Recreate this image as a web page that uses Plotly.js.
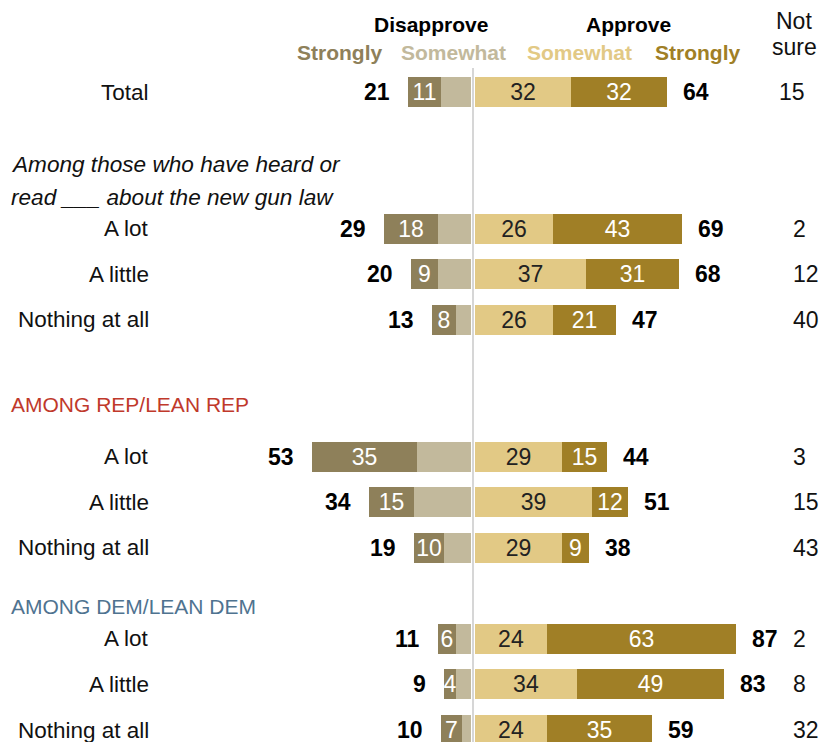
<!DOCTYPE html>
<html>
<head>
<meta charset="utf-8">
<script src="https://cdn.plot.ly/plotly-3.0.1.min.js"></script>
<style>html,body{margin:0;padding:0;background:#fff;}#chart{width:825px;height:742px;}</style>
</head>
<body>
<div id="chart"></div>
<script>
// ---- data ----
var rowLabels = ["Total","A lot","A little","Nothing at all","A lot","A little","Nothing at all","A lot","A little","Nothing at all"];
var stronglyDisapprove = [11,18,9,8,35,15,10,6,4,7];
var somewhatDisapprove = [10,11,11,5,18,19,9,5,5,3];
var somewhatApprove    = [32,26,37,26,29,39,29,24,34,24];
var stronglyApprove    = [32,43,31,21,15,12,9,63,49,35];
var totalDisapprove    = [21,29,20,13,53,34,19,11,9,10];
var totalApprove       = [64,69,68,47,44,51,38,87,83,59];
var notSure            = [15,2,12,40,3,15,43,2,8,32];

// ---- layout settings ----
var rowSlots = [0,3,4,5,8,9,10,12,13,14];   // vertical slot of each row (blank slots = group gaps)
var W = 825, H = 742;
var FONT = "Liberation Sans, Arial, sans-serif";
var C_SD = "#8e805a", C_WD = "#c2b99c", C_WA = "#e2c985", C_SA = "#a07f26";
var GAP = 0.67;       // half-gap around the zero line, in axis units
var barW = 0.66;
function py(p){ return 1 - p/H; }

var n = rowLabels.length;
var baseWD = [], baseSD = [], baseWA = [], baseSA = [];
for (var k=0;k<n;k++){
  baseWD.push(-GAP);
  baseSD.push(-GAP - somewhatDisapprove[k]);
  baseWA.push(GAP);
  baseSA.push(GAP + somewhatApprove[k]);
}
function neg(a){ return a.map(function(v){return -v;}); }
var common = {type:"bar", orientation:"h", y:rowSlots, width:barW, hoverinfo:"skip", showlegend:false,
  textposition:"inside", insidetextanchor:"middle", textangle:0, constraintext:"none"};
function mk(o){ var t = {}; for (var a in common) t[a]=common[a]; for (var b in o) t[b]=o[b]; return t; }

var traces = [
  mk({x:neg(somewhatDisapprove), base:baseWD, marker:{color:C_WD}, textposition:"none"}),
  mk({x:neg(stronglyDisapprove), base:baseSD, marker:{color:C_SD}, text:stronglyDisapprove.map(String),
      textfont:{family:FONT,size:23,color:"#ffffff"}}),
  mk({x:somewhatApprove, base:baseWA, marker:{color:C_WA}, text:somewhatApprove.map(String),
      textfont:{family:FONT,size:23,color:"#222222"}}),
  mk({x:stronglyApprove, base:baseSA, marker:{color:C_SA}, text:stronglyApprove.map(String),
      textfont:{family:FONT,size:23,color:"#ffffff"}})
];

var ann = [];
for (var i=0;i<n;i++){
  ann.push({xref:"paper", yref:"y", x:151/W, y:rowSlots[i], xanchor:"right", yanchor:"middle",
    text:rowLabels[i], showarrow:false, font:{family:FONT,size:22.5,color:"#111"}});
  ann.push({xref:"x", yref:"y", x:-GAP-totalDisapprove[i]-5.3, y:rowSlots[i], xanchor:"right", yanchor:"middle",
    text:"<b>"+totalDisapprove[i]+"</b>", showarrow:false, font:{family:FONT,size:23,color:"#000"}});
  ann.push({xref:"x", yref:"y", x:GAP+totalApprove[i]+4.8, y:rowSlots[i], xanchor:"left", yanchor:"middle",
    text:"<b>"+totalApprove[i]+"</b>", showarrow:false, font:{family:FONT,size:23,color:"#000"}});
  ann.push({xref:"paper", yref:"y", x:(i===0?777:791)/W, y:rowSlots[i], xanchor:"left", yanchor:"middle",
    text:String(notSure[i]), showarrow:false, font:{family:FONT,size:23,color:"#111"}});
}
function hdr(txt,xp,yp,color,anchor,size){
  ann.push({xref:"paper", yref:"paper", x:xp/W, y:py(yp), xanchor:anchor||"center", yanchor:"middle",
    text:txt, showarrow:false, font:{family:FONT,size:size||21,color:color}});
}
hdr("<b>Disapprove</b>",431,25,"#000");
hdr("<b>Approve</b>",628,25,"#000");
hdr("<b>Strongly</b>",339,53,C_SD);
hdr("<b>Somewhat</b>",453,53,C_WD);
hdr("<b>Somewhat</b>",579,53,C_WA);
hdr("<b>Strongly</b>",697,53,C_SA);
hdr("Not",794,21,"#111","center",23);
hdr("sure",794,47,"#111","center",23);
hdr("<i>Among those who have heard or</i>",9,165,"#111","left",22.6);
hdr("<i>read ___ about the new gun law</i>",9,197,"#111","left",22.6);
hdr("AMONG REP/LEAN REP",9,404,"#c0392b","left",21);
hdr("AMONG DEM/LEAN DEM",9,606,"#4f7390","left",21);

var layout = {
  width:W, height:H, margin:{l:0,r:0,t:0,b:0,pad:0},
  paper_bgcolor:"#fff", plot_bgcolor:"#fff",
  barmode:"overlay", bargap:0,
  xaxis:{range:[-473/3, (W-473)/3], visible:false, fixedrange:true},
  yaxis:{range:[14+12/45.57, -92/45.57], visible:false, fixedrange:true},
  annotations:ann,
  shapes:[
    {type:"line", xref:"x", yref:"paper", x0:0, x1:0, y0:0, y1:py(68), layer:"above",
     line:{color:"#d6d6d6", width:2}}
  ],
  font:{family:FONT}
};
Plotly.newPlot("chart", traces, layout, {displayModeBar:false, staticPlot:true});
</script>
</body>
</html>
